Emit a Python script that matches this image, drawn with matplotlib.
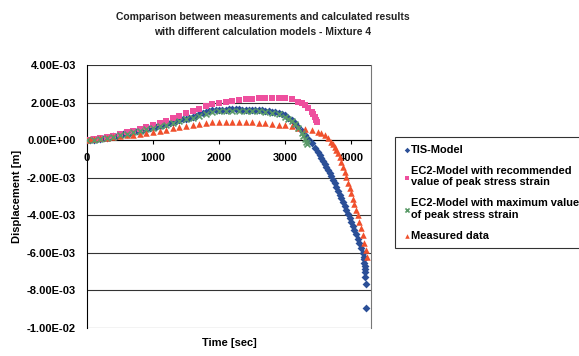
import matplotlib
matplotlib.use('Agg')
import matplotlib.pyplot as plt
import numpy as np
from matplotlib.ticker import FormatStrFormatter

plt.rcParams['font.family'] = ['Liberation Sans', 'DejaVu Sans']
plt.rcParams['font.weight'] = 'bold'

# displacement values, in 1E-3 m
tis_t = [0, 50, 100, 150, 200, 250, 300, 350, 400, 450, 500, 550, 600, 650, 700, 750,
         800, 850, 900, 950, 1000, 1050, 1100, 1150, 1200, 1250, 1300, 1350, 1400, 1450,
         1500, 1550, 1600, 1650, 1700, 1750, 1800, 1850, 1900, 1950, 2000, 2050, 2100,
         2150, 2200, 2250, 2300, 2350, 2400, 2450, 2500, 2550, 2600, 2650, 2700, 2750,
         2800, 2850, 2900, 2950, 3000, 3050, 3100, 3150, 3200, 3250, 3300, 3350, 3400,
         3450, 3500, 3525, 3550, 3575, 3600, 3625, 3650, 3675, 3700, 3725, 3750, 3775,
         3800, 3825, 3850, 3875, 3900, 3925, 3950, 3975, 4000, 4025, 4050, 4075, 4100,
         4125, 4150, 4175, 4190, 4195, 4200, 4205, 4210, 4212, 4215, 4220, 4230]
tis_d = [0.00, 0.01, 0.03, 0.05, 0.08, 0.10, 0.13, 0.16, 0.20, 0.23, 0.27, 0.31, 0.35,
         0.39, 0.43, 0.47, 0.52, 0.56, 0.60, 0.64, 0.68, 0.72, 0.77, 0.81, 0.86, 0.90,
         0.95, 1.00, 1.05, 1.10, 1.15, 1.20, 1.25, 1.31, 1.37, 1.43, 1.50, 1.55, 1.58,
         1.60, 1.62, 1.63, 1.63, 1.64, 1.64, 1.64, 1.64, 1.63, 1.63, 1.62, 1.62, 1.61,
         1.60, 1.58, 1.57, 1.55, 1.52, 1.49, 1.45, 1.40, 1.33, 1.20, 1.05, 0.89, 0.70,
         0.50, 0.30, 0.08, -0.15, -0.40, -0.65, -0.79, -0.94, -1.09, -1.25, -1.41, -1.57,
         -1.73, -1.90, -2.10, -2.30, -2.50, -2.70, -2.90, -3.10, -3.30, -3.50, -3.71,
         -3.92, -4.13, -4.35, -4.57, -4.80, -5.02, -5.25, -5.50, -5.75, -6.00, -6.20,
         -6.35, -6.55, -6.70, -6.85, -7.00, -7.30, -7.65, -8.95]

ec2_rec_t = [0, 100, 200, 300, 400, 500, 600, 700, 800, 900, 1000, 1100, 1200, 1300,
             1400, 1500, 1600, 1700, 1800, 1900, 2000, 2100, 2200, 2300, 2400, 2500,
             2600, 2700, 2800, 2900, 3000, 3100, 3200, 3250, 3300, 3350, 3400, 3425,
             3450, 3470, 3480]
ec2_rec_d = [0.00, 0.04, 0.10, 0.16, 0.24, 0.32, 0.41, 0.50, 0.60, 0.70, 0.80, 0.92,
             1.04, 1.16, 1.29, 1.42, 1.55, 1.68, 1.82, 1.92, 2.00, 2.05, 2.09, 2.13,
             2.17, 2.20, 2.23, 2.25, 2.26, 2.26, 2.24, 2.18, 2.05, 1.96, 1.85, 1.70,
             1.50, 1.37, 1.22, 1.07, 0.95]

ec2_max_t = [0, 100, 200, 300, 400, 500, 600, 700, 800, 900, 1000, 1100, 1200, 1300,
             1400, 1500, 1600, 1700, 1800, 1900, 2000, 2100, 2200, 2300, 2400, 2500,
             2600, 2700, 2800, 2900, 3000, 3050, 3100, 3150, 3200, 3250, 3275, 3300,
             3320, 3335]
ec2_max_d = [0.00, 0.03, 0.08, 0.13, 0.19, 0.26, 0.33, 0.41, 0.49, 0.57, 0.65, 0.74,
             0.83, 0.92, 1.01, 1.10, 1.20, 1.30, 1.40, 1.48, 1.53, 1.55, 1.56, 1.56,
             1.56, 1.55, 1.53, 1.50, 1.45, 1.38, 1.25, 1.15, 1.02, 0.87, 0.65, 0.38,
             0.22, 0.05, -0.10, -0.22]

meas_t = [0, 50, 100, 200, 300, 400, 500, 600, 700, 800, 900, 1000, 1100, 1200, 1300,
          1400, 1500, 1600, 1700, 1800, 1900, 2000, 2100, 2200, 2300, 2400, 2500, 2600,
          2700, 2800, 2900, 3000, 3100, 3200, 3300, 3400, 3500, 3550, 3600, 3650, 3700,
          3725, 3750, 3775, 3800, 3825, 3850, 3875, 3900, 3925, 3950, 3975, 4000, 4025,
          4050, 4075, 4100, 4125, 4150, 4175, 4200, 4225, 4245]
meas_d = [0.00, 0.06, 0.08, 0.10, 0.13, 0.17, 0.21, 0.25, 0.30, 0.35, 0.40, 0.45, 0.50,
          0.56, 0.62, 0.68, 0.74, 0.80, 0.87, 0.93, 0.96, 0.97, 0.98, 0.98, 0.97, 0.96,
          0.95, 0.93, 0.90, 0.86, 0.82, 0.78, 0.73, 0.67, 0.60, 0.52, 0.45, 0.38, 0.27,
          0.10, -0.08, -0.20, -0.35, -0.52, -0.70, -0.92, -1.17, -1.43, -1.70, -1.98,
          -2.26, -2.55, -2.84, -3.13, -3.42, -3.71, -4.00, -4.35, -4.70, -5.07, -5.45,
          -5.85, -6.20]

yticks = [4e-3, 2e-3, 0, -2e-3, -4e-3, -6e-3, -8e-3, -1e-2]
xticks = [0, 1000, 2000, 3000, 4000]

fig = plt.figure(figsize=(5.79, 3.56), dpi=100)
ax = fig.add_axes([87 / 579, 28 / 356, 284 / 579, 263 / 356])

ax.scatter(tis_t, np.array(tis_d) * 1e-3, marker='D', s=16, color='#2b4f97',
           linewidths=0, label='TIS-Model', zorder=3)
ax.scatter(ec2_rec_t, np.array(ec2_rec_d) * 1e-3, marker='s', s=20, color='#ee4f9e',
           linewidths=0, label='EC2-Model with recommended\nvalue of peak stress strain', zorder=3)
ax.scatter(ec2_max_t, np.array(ec2_max_d) * 1e-3, marker='x', s=18, color='#5a9a68',
           linewidths=1.2, label='EC2-Model with maximum value\nof peak stress strain', zorder=4)
ax.scatter(meas_t, np.array(meas_d) * 1e-3, marker='^', s=22, color='#f0502c',
           linewidths=0, label='Measured data', zorder=3)

ax.set_xlim(0, 4300)
ax.set_ylim(-1e-2, 4e-3)
ax.set_yticks(yticks)
ax.set_xticks(xticks)
ax.yaxis.set_major_formatter(FormatStrFormatter('%.2E'))
ax.tick_params(axis='both', labelsize=8, length=3, width=0.8)
ax.tick_params(axis='x', direction='out', pad=6)
ax.tick_params(axis='y', length=0, pad=8)

for y in yticks:
    ax.axhline(y, color='#333333', lw=0.8, zorder=1)

ax.spines['bottom'].set_position(('data', 0))
ax.spines['bottom'].set_linewidth(0.8)
ax.spines['top'].set_visible(False)
ax.spines['left'].set_linewidth(0.8)
ax.spines['right'].set_color('#777777')
ax.spines['right'].set_linewidth(0.8)

fig.text(263 / 579, 1 - 17 / 356, 'Comparison between measurements and calculated results',
         ha='center', va='center', fontsize=7.5, fontweight='bold', color='#222222')
fig.text(263 / 579, 1 - 32 / 356, 'with different calculation models - Mixture 4',
         ha='center', va='center', fontsize=7.5, fontweight='bold', color='#222222')
fig.text(17 / 579, 1 - 196 / 356, 'Displacement [m]', rotation=90, ha='center', va='center',
         fontsize=8, fontweight='bold')
fig.text(229 / 579, 1 - 343 / 356, 'Time [sec]', ha='center', va='center',
         fontsize=8, fontweight='bold')

leg = fig.legend(loc='upper left', bbox_to_anchor=(395 / 579, 1 - 137 / 356),
                 fontsize=7.9, frameon=True, fancybox=False, edgecolor='black',
                 handletextpad=0.05, handlelength=0.7, labelspacing=1.0,
                 borderpad=0.7, borderaxespad=0, markerscale=0.7)
leg.get_frame().set_linewidth(0.8)

fig.savefig('out.png', dpi=100)
